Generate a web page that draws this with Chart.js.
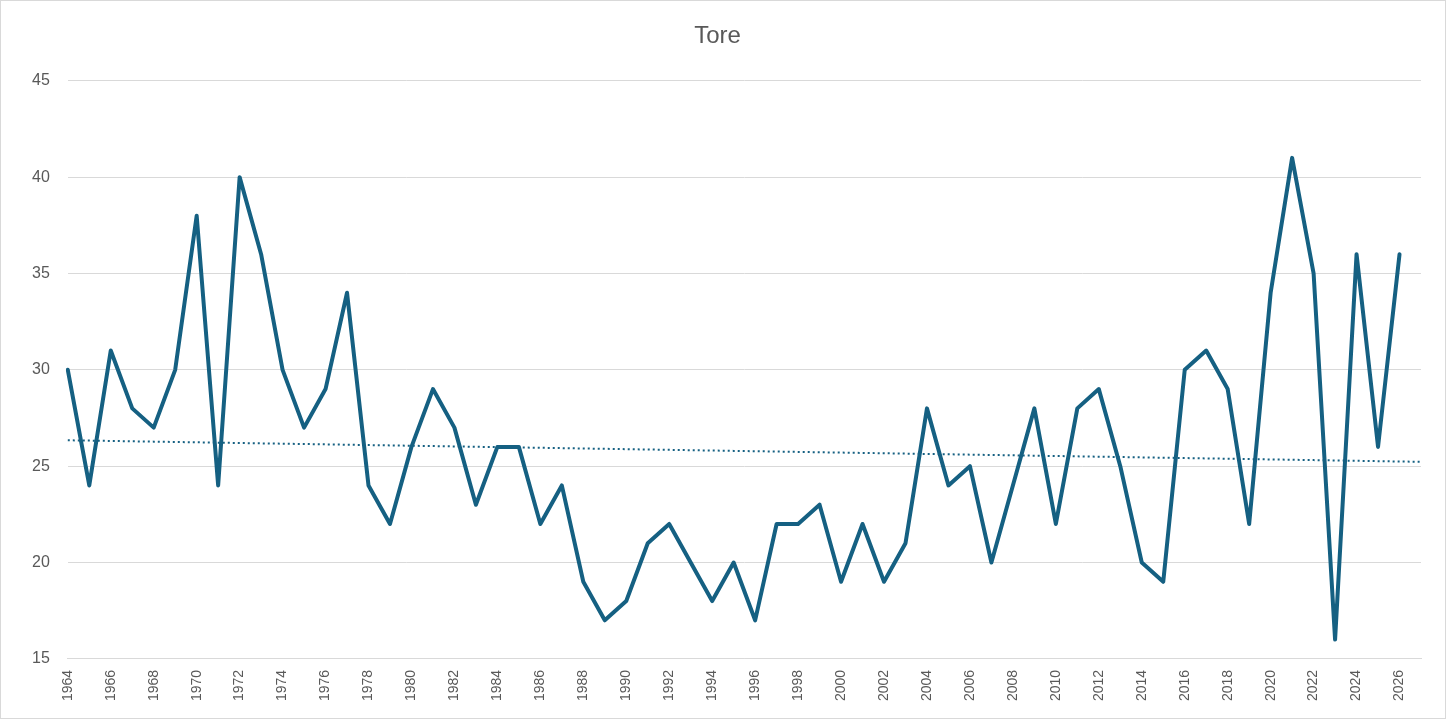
<!DOCTYPE html>
<html><head><meta charset="utf-8">
<script src="https://cdn.jsdelivr.net/npm/chart.js@4"></script>
<style>html,body{margin:0;padding:0;background:#fff}#w{width:1446px;height:719px;position:relative;box-sizing:border-box;border:1px solid #d9d9d9}</style>
</head><body><div id="w"><canvas id="c"></canvas></div>
<script>
const years = [];
for (let y = 1964; y <= 2027; y++) years.push(String(y));
const tore = [30,24,31,28,27,30,38,24,40,36,30,27,29,34,24,22,26,29,27,23,26,26,22,24,19,17,18,21,22,20,18,20,17,22,22,23,19,22,19,21,28,24,25,20,24,28,22,28,29,25,20,19,30,31,29,22,34,41,35,16,36,26,36];
const n = tore.length;
let sx=0, sy=0, sxy=0, sxx=0;
tore.forEach((v,i)=>{sx+=i;sy+=v;sxy+=i*v;sxx+=i*i;});
const slope=(n*sxy-sx*sy)/(n*sxx-sx*sx), icpt=(sy-slope*sx)/n;
const trend = years.map((_,i)=>icpt+slope*i);
new Chart(document.getElementById('c'),{
  type:'line',
  data:{labels:years,datasets:[
    {data:tore,borderColor:'#156082',borderWidth:4,pointRadius:0,tension:0,borderJoinStyle:'round',borderCapStyle:'round'},
    {data:trend,borderColor:'#156082',borderWidth:2,borderDash:[2,3],pointRadius:0}
  ]},
  options:{responsive:true,maintainAspectRatio:false,animation:false,
    layout:{padding:{left:13,right:24,top:5,bottom:14}},
    plugins:{legend:{display:false},tooltip:{enabled:false},
      title:{display:true,text:'Tore',color:'#595959',font:{family:'Liberation Sans',size:24,weight:'normal'},padding:{top:16,bottom:30}}},
    scales:{
      x:{offset:false,grid:{display:false},border:{color:'#d9d9d9'},
        ticks:{color:'#595959',font:{family:'Liberation Sans',size:14},maxRotation:90,minRotation:90,autoSkip:false,
          callback:(v,i)=>i%2===0?years[i]:''}},
      y:{min:15,max:45,border:{display:false},grid:{color:'#d9d9d9',drawTicks:false},
        ticks:{stepSize:5,color:'#595959',padding:18,font:{family:'Liberation Sans',size:16}}}
    }}
});
</script></body></html>
